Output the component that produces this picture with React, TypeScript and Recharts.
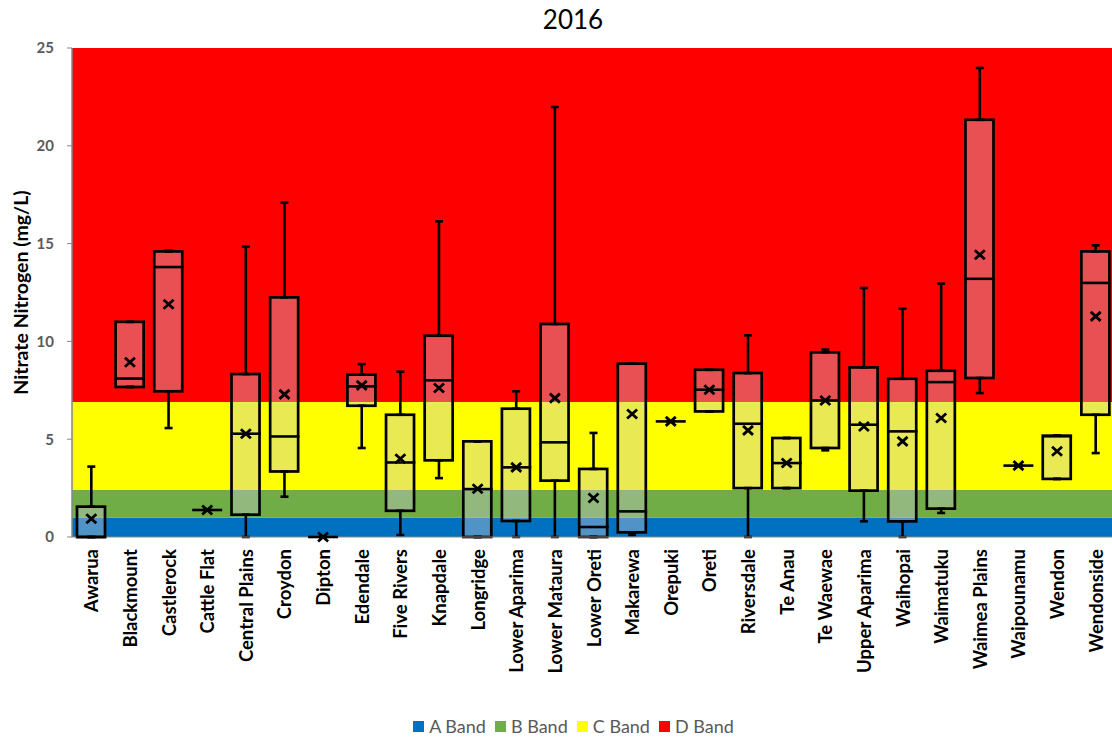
import React from 'react';
import {
  ComposedChart,
  Bar,
  Scatter,
  ErrorBar,
  XAxis,
  YAxis,
  ReferenceArea,
  Legend,
  Label,
} from 'recharts';

const chartTitle = '2016';
const yAxisTitle = 'Nitrate Nitrogen (mg/L)';

const sites = [
  'Awarua', 'Blackmount', 'Castlerock', 'Cattle Flat', 'Central Plains', 'Croydon',
  'Dipton', 'Edendale', 'Five Rivers', 'Knapdale', 'Longridge', 'Lower Aparima',
  'Lower Mataura', 'Lower Oreti', 'Makarewa', 'Orepuki', 'Oreti', 'Riversdale',
  'Te Anau', 'Te Waewae', 'Upper Aparima', 'Waihopai', 'Waimatuku', 'Waimea Plains',
  'Waipounamu', 'Wendon', 'Wendonside',
];

const minVals = [
  0, 7.67, 5.57, 1.38, 0, 2.06, 0, 4.55, 0.1, 3.01, 0, 0, 0, 0, 0.1, 5.91, 6.42, 0,
  2.5, 4.43, 0.8, 0, 1.23, 7.36, 3.65, 2.97, 4.29,
];
const q1Vals = [
  0, 7.67, 7.45, 1.38, 1.14, 3.35, 0, 6.71, 1.34, 3.92, 0, 0.82, 2.88, 0, 0.24, 5.91, 6.42, 2.5,
  2.5, 4.55, 2.37, 0.8, 1.45, 8.13, 3.65, 2.97, 6.25,
];
const medianVals = [
  0, 8.1, 13.8, 1.38, 5.28, 5.14, 0, 7.7, 3.81, 8.01, 2.45, 3.56, 4.84, 0.51, 1.31, 5.91, 7.53, 5.79,
  3.78, 6.98, 5.74, 5.4, 7.92, 13.2, 3.65, 5.15, 12.99,
];
const q3Vals = [
  1.55, 11.0, 14.6, 1.38, 8.33, 12.25, 0, 8.3, 6.25, 10.29, 4.89, 6.56, 10.89, 3.48, 8.86, 5.91, 8.55, 8.38,
  5.06, 9.44, 8.67, 8.09, 8.5, 21.33, 3.65, 5.18, 14.6,
];
const maxVals = [
  3.6, 11.0, 14.65, 1.38, 14.85, 17.1, 0, 8.84, 8.45, 16.14, 4.89, 7.45, 21.98, 5.32, 8.86, 5.91, 8.55, 10.31,
  5.06, 9.58, 12.73, 11.67, 12.95, 23.98, 3.65, 5.18, 14.91,
];
const meanVals = [
  0.93, 8.93, 11.9, 1.38, 5.28, 7.29, 0, 7.75, 4.0, 7.62, 2.47, 3.56, 7.1, 1.99, 6.29, 5.91, 7.53, 5.45,
  3.78, 6.98, 5.65, 4.89, 6.08, 14.43, 3.65, 4.38, 11.28,
];

const bandNames = ['A Band', 'B Band', 'C Band', 'D Band'];
const bandLower = [0, 1, 2.4, 6.9];
const bandUpper = [1, 2.4, 6.9, 25];
const bandColors = ['#0070C0', '#70AD47', '#FFFF00', '#FF0000'];

const yTicks = [0, 5, 10, 15, 20, 25];

const data = sites.map((site, i) => ({
  site,
  box: [q1Vals[i], q3Vals[i]],
  q1: q1Vals[i],
  q3: q3Vals[i],
  median: medianVals[i],
  mean: meanVals[i],
  lowErr: [q1Vals[i] - minVals[i], 0],
  highErr: [0, maxVals[i] - q3Vals[i]],
}));

const FONT = 'Lato, "Open Sans", sans-serif';
const BOX_W = 28;

const XTick = (props: any) => {
  const { x, y, payload } = props;
  return (
    <text
      x={x}
      y={y}
      transform={`rotate(-90, ${x}, ${y})`}
      textAnchor="end"
      dominantBaseline="central"
      fontFamily={FONT}
      fontWeight={700}
      fontSize={18.5}
      fill="#000"
    >
      {payload.value}
    </text>
  );
};

const MeanShape = (props: any) => {
  const { cx, cy } = props;
  const a = 5;
  const b = 4.5;
  return (
    <path
      d={`M${cx - a},${cy - b}L${cx + a},${cy + b}M${cx - a},${cy + b}L${cx + a},${cy - b}`}
      stroke="#000"
      strokeWidth={2.8}
      fill="none"
    />
  );
};

const MedianShape = (props: any) => {
  const { cx, cy } = props;
  const h = BOX_W / 2 + 1;
  return <line x1={cx - h} x2={cx + h} y1={cy} y2={cy} stroke="#000" strokeWidth={2.6} />;
};

const EmptyShape = () => <g />;

const BoxShape = (props: any) => {
  const { x, y, width, height } = props;
  return (
    <rect
      x={x}
      y={y}
      width={width}
      height={Math.max(height, 0)}
      fill="rgb(200,200,210)"
      fillOpacity={0.4}
      stroke="#000"
      strokeWidth={2.7}
    />
  );
};

const renderLegend = () => (
  <div
    style={{
      display: 'flex',
      justifyContent: 'center',
      alignItems: 'center',
      gap: 9,
      height: 24,
      paddingLeft: 32,
      fontFamily: FONT,
      fontSize: 18,
      color: '#595959',
    }}
  >
    {bandNames.map((n, i) => (
      <span key={n} style={{ display: 'inline-flex', alignItems: 'center' }}>
        <span
          style={{ display: 'inline-block', width: 11, height: 11, background: bandColors[i], marginRight: 5 }}
        />
        {n}
      </span>
    ))}
  </div>
);

export default function App() {
  return (
    <div
      style={{
        position: 'absolute',
        left: 0,
        top: 0,
        width: 1112,
        height: 738,
        overflow: 'hidden',
        background: '#fff',
      }}
    >
      <div
        style={{
          position: 'absolute',
          top: 3,
          left: 0,
          width: 1146,
          textAlign: 'center',
          fontFamily: FONT,
          fontSize: 26,
          color: '#000',
        }}
      >
        {chartTitle}
      </div>
      <ComposedChart
        width={1115}
        height={738}
        data={data}
        margin={{ top: 48, right: 0, left: 0, bottom: 0 }}
      >
        {bandNames.map((n, i) => (
          <ReferenceArea
            key={n}
            y1={bandLower[i]}
            y2={bandUpper[i]}
            fill={bandColors[i]}
            fillOpacity={1}
            stroke="none"
            ifOverflow="hidden"
          />
        ))}
        <XAxis
          dataKey="site"
          type="category"
          interval={0}
          height={177}
          tickSize={0}
          tickMargin={12}
          tick={<XTick />}
          axisLine={{ stroke: '#868686', strokeWidth: 1 }}
          tickLine={false}
        />
        <YAxis
          type="number"
          domain={[0, 25]}
          ticks={yTicks}
          width={72}
          tickSize={5}
          tickMargin={13}
          axisLine={{ stroke: '#868686', strokeWidth: 1.5 }}
          tickLine={{ stroke: '#868686' }}
          tick={{ fill: '#595959', fontFamily: FONT, fontWeight: 700, fontSize: 15 }}
        >
          <Label
            content={(p: any) => {
              const vb = p.viewBox;
              const cx = 20;
              const cy = vb.y + vb.height / 2;
              return (
                <text
                  x={cx}
                  y={cy}
                  transform={`rotate(-90, ${cx}, ${cy})`}
                  textAnchor="middle"
                  dominantBaseline="central"
                  fontFamily={FONT}
                  fontWeight={700}
                  fontSize={19.5}
                  fill="#000"
                >
                  {yAxisTitle}
                </text>
              );
            }}
          />
        </YAxis>
        <Legend verticalAlign="bottom" content={renderLegend} />
        <Bar dataKey="box" barSize={BOX_W} shape={<BoxShape />} isAnimationActive={false} legendType="none" />
        <Scatter dataKey="q3" shape={<EmptyShape />} isAnimationActive={false} legendType="none">
          <ErrorBar dataKey="highErr" direction="y" width={4} stroke="#000" strokeWidth={2.6} />
        </Scatter>
        <Scatter dataKey="q1" shape={<EmptyShape />} isAnimationActive={false} legendType="none">
          <ErrorBar dataKey="lowErr" direction="y" width={4} stroke="#000" strokeWidth={2.6} />
        </Scatter>
        <Scatter dataKey="median" shape={<MedianShape />} isAnimationActive={false} legendType="none" />
        <Scatter dataKey="mean" shape={<MeanShape />} isAnimationActive={false} legendType="none" />
      </ComposedChart>
    </div>
  );
}
